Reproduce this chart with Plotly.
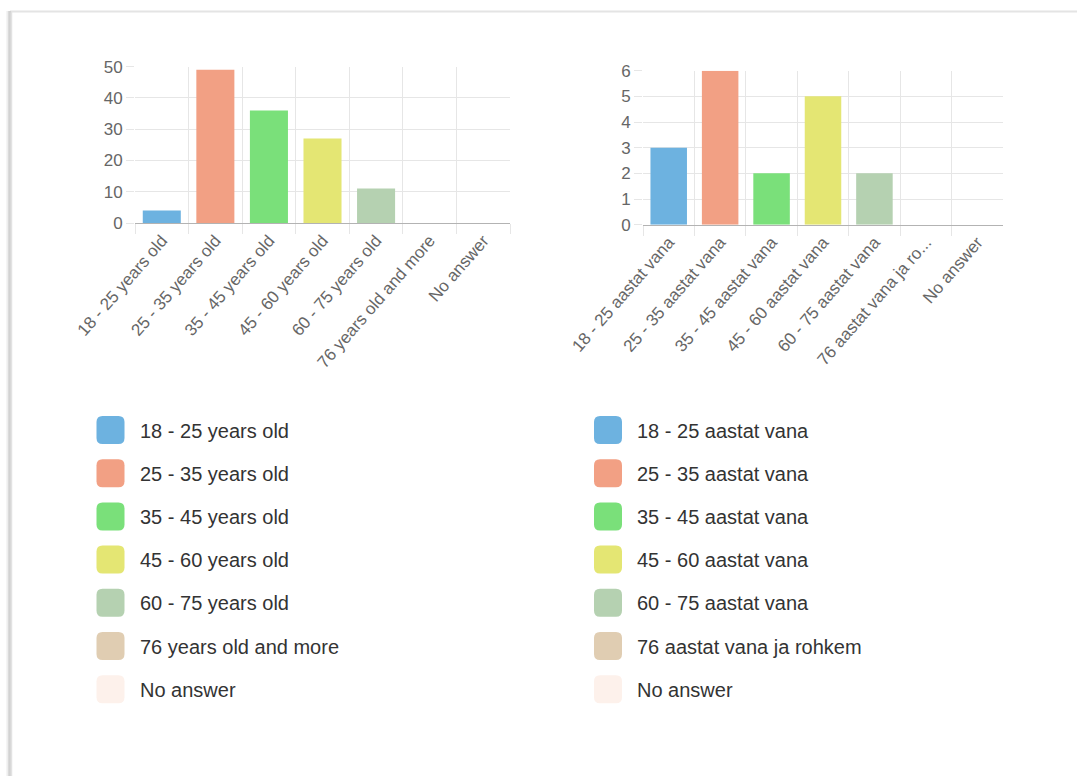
import plotly.graph_objects as go

W, H = 1077, 776

# ---- data ----
categories_en = ["18 - 25 years old", "25 - 35 years old", "35 - 45 years old",
                 "45 - 60 years old", "60 - 75 years old", "76 years old and more", "No answer"]
values_en = [4, 49, 36, 27, 11, 0, 0]

categories_et = ["18 - 25 aastat vana", "25 - 35 aastat vana", "35 - 45 aastat vana",
                 "45 - 60 aastat vana", "60 - 75 aastat vana", "76 aastat vana ja rohkem", "No answer"]
ticklabels_et = ["18 - 25 aastat vana", "25 - 35 aastat vana", "35 - 45 aastat vana",
                 "45 - 60 aastat vana", "60 - 75 aastat vana", "76 aastat vana ja ro...", "No answer"]
values_et = [3, 6, 2, 5, 2, 0, 0]

colors = ["#6DB2E0", "#F2A084", "#7AE07A", "#E4E673", "#B5D1B1", "#E0CDB2", "#FDF1EB"]

yticks_en = [0, 10, 20, 30, 40, 50]
yticks_et = [0, 1, 2, 3, 4, 5, 6]

FONT = "Liberation Sans, Arial, Helvetica, sans-serif"


def px(x):
    return x / W


def py(y):
    return 1 - y / H


fig = go.Figure()

fig.add_trace(go.Bar(x=categories_en, y=values_en, marker=dict(color=colors, line=dict(width=0)),
                     xaxis="x", yaxis="y", showlegend=False, hoverinfo="x+y"))
fig.add_trace(go.Bar(x=categories_et, y=values_et, marker=dict(color=colors, line=dict(width=0)),
                     xaxis="x2", yaxis="y2", showlegend=False, hoverinfo="x+y"))

grid = "#E6E6E6"
xtickfont = dict(family=FONT, size=17, color="#666666")
ytickfont = dict(family=FONT, size=17, color="#666666")

common_x = dict(type="category", showgrid=True, gridcolor=grid, tickson="boundaries",
                ticks="outside", ticklen=10, tickcolor=grid, showline=True, linecolor="#B3B3B3",
                linewidth=1, tickangle=-49, tickfont=xtickfont, zeroline=False, fixedrange=True,
                automargin=False)
common_y = dict(showgrid=True, gridcolor=grid, ticks="outside", ticklen=8, tickcolor=grid,
                showline=False, zeroline=False, tickfont=ytickfont, fixedrange=True,
                automargin=False)

fig.update_layout(
    width=W, height=H,
    margin=dict(l=0, r=0, t=0, b=0, pad=0),
    paper_bgcolor="white", plot_bgcolor="white",
    bargap=0.29,
    xaxis=dict(domain=[px(135), px(510)], anchor="y", range=[-0.5, 6.5], **common_x),
    yaxis=dict(domain=[py(223), py(66.7)], anchor="x", range=[0, 50], tickvals=yticks_en, **common_y),
    xaxis2=dict(domain=[px(643), px(1003)], anchor="y2", range=[-0.5, 6.5],
                tickvals=categories_et, ticktext=ticklabels_et, **common_x),
    yaxis2=dict(domain=[py(224.7), py(70.7)], anchor="x2", range=[0, 6], tickvals=yticks_et, **common_y),
    font=dict(family=FONT),
)

shapes = []
annotations = []

# card outline (shadowed border)
shapes.append(dict(type="line", xref="paper", yref="paper", x0=px(10), x1=1, y0=py(11.5), y1=py(11.5),
                   line=dict(color="#E4E4E4", width=2), layer="below"))
for xx, col in [(7, "#F2F2F2"), (8.5, "#DADADA"), (10, "#C6C6C6"), (11.5, "#E2E2E2")]:
    shapes.append(dict(type="line", xref="paper", yref="paper", x0=px(xx), x1=px(xx), y0=py(11), y1=0,
                       line=dict(color=col, width=1.5), layer="below"))


def rounded_rect(x0, y0, x1, y1, r):
    X = px
    Y = py
    return (f"M {X(x0 + r)},{Y(y0)} L {X(x1 - r)},{Y(y0)} Q {X(x1)},{Y(y0)} {X(x1)},{Y(y0 + r)} "
            f"L {X(x1)},{Y(y1 - r)} Q {X(x1)},{Y(y1)} {X(x1 - r)},{Y(y1)} "
            f"L {X(x0 + r)},{Y(y1)} Q {X(x0)},{Y(y1)} {X(x0)},{Y(y1 - r)} "
            f"L {X(x0)},{Y(y0 + r)} Q {X(x0)},{Y(y0)} {X(x0 + r)},{Y(y0)} Z")


legend_top = 416
row_step = 43.2
box = 28
for lx, labels in [(96.5, categories_en), (594, categories_et)]:
    for i, (lab, col) in enumerate(zip(labels, colors)):
        top = legend_top + i * row_step
        shapes.append(dict(type="path", xref="paper", yref="paper",
                           path=rounded_rect(lx, top, lx + box, top + box, 6),
                           fillcolor=col, line=dict(width=0)))
        annotations.append(dict(xref="paper", yref="paper", x=px(lx + 41), y=py(top + box / 2 + 0.5),
                                xanchor="left", yanchor="middle", showarrow=False, text=lab,
                                font=dict(family=FONT, size=20, color="#333333")))

fig.update_layout(shapes=shapes, annotations=annotations)

fig.write_html("out.html", config={"displayModeBar": False},
               post_script="document.body.style.margin='0';document.body.style.overflow='hidden';")
